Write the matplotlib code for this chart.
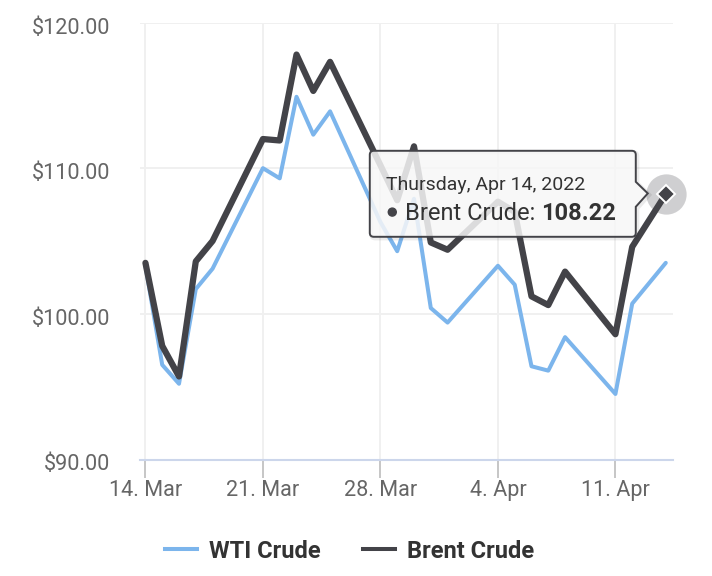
import numpy as np
import matplotlib
matplotlib.use('Agg')
import matplotlib.pyplot as plt
import matplotlib.dates as mdates
from matplotlib.path import Path
from matplotlib.patches import PathPatch, Circle
from matplotlib.lines import Line2D
from matplotlib.text import Annotation
from matplotlib.transforms import IdentityTransform, ScaledTranslation

# daily spot prices, USD per barrel
dates = ['2022-03-14', '2022-03-15', '2022-03-16', '2022-03-17', '2022-03-18',
         '2022-03-21', '2022-03-22', '2022-03-23', '2022-03-24', '2022-03-25',
         '2022-03-28', '2022-03-29', '2022-03-30', '2022-03-31', '2022-04-01',
         '2022-04-04', '2022-04-05', '2022-04-06', '2022-04-07', '2022-04-08',
         '2022-04-11', '2022-04-12', '2022-04-14']
wti = [103.3, 96.5, 95.2, 101.7, 103.1,
       110.0, 109.3, 114.9, 112.3, 113.9,
       106.3, 104.3, 107.9, 100.4, 99.4,
       103.3, 102.0, 96.4, 96.1, 98.4,
       94.5, 100.7, 103.5]
brent = [103.5, 97.8, 95.7, 103.6, 105.0,
         112.0, 111.9, 117.8, 115.3, 117.3,
         110.2, 107.8, 111.5, 104.9, 104.4,
         107.7, 107.0, 101.2, 100.6, 102.9,
         98.6, 104.6, 108.22]

tick_dates = ['2022-03-14', '2022-03-21', '2022-03-28', '2022-04-04', '2022-04-11']
tick_labels = ['14. Mar', '21. Mar', '28. Mar', '4. Apr', '11. Apr']
y_ticks = [90, 100, 110, 120]
series_names = ['WTI Crude', 'Brent Crude']
tip_header = 'Thursday, Apr 14, 2022'
tip_value = '108.22'

wti_color = '#7cb5ec'
brent_color = '#434348'

plt.rcParams['font.family'] = ['Roboto', 'DejaVu Sans']

W, H = 712, 576
fig = plt.figure(figsize=(W / 100, H / 100), dpi=100)
ax = fig.add_axes([140.4 / W, 1 - 459.5 / H, (673 - 140.4) / W, (459.5 - 22.5) / H])

x = mdates.date2num(np.array(dates, dtype='datetime64[D]'))
xt = mdates.date2num(np.array(tick_dates, dtype='datetime64[D]'))

ax.plot(x, wti, color=wti_color, lw=2.9, solid_joinstyle='round', solid_capstyle='round', zorder=3)
ax.plot(x, brent, color=brent_color, lw=4.5, solid_joinstyle='round', solid_capstyle='round', zorder=3)

# hover marker on the last Brent point
ax.plot(x[-1], brent[-1], 'o', ms=29, color=brent_color, alpha=0.25, mew=0, clip_on=False, zorder=4)
ax.plot(x[-1], brent[-1], 'D', ms=9, mfc=brent_color, mec='white', mew=1.4, clip_on=False, zorder=5)

ax.set_xlim(x[0] - 0.3, x[-1] + 0.43)
ax.set_ylim(90, 120)
ax.set_xticks(xt)
ax.set_xticklabels(tick_labels)
ax.set_yticks(y_ticks)
ax.set_yticklabels([f'${v:.2f}' for v in y_ticks])

ax.grid(True, color='#f0f0f0', lw=1.4)
ax.set_axisbelow(True)
for s in ['left', 'top', 'right']:
    ax.spines[s].set_visible(False)
ax.spines['bottom'].set_color('#ccd6eb')
ax.spines['bottom'].set_linewidth(1.5)

ax.tick_params(axis='y', length=0, pad=22, labelsize=15.6, labelcolor='#666666')
ax.tick_params(axis='x', length=13, width=1.4, color='#c6c6c6', pad=2,
               labelsize=15.6, labelcolor='#666666')
# y labels sit a little below their grid lines
shift = ScaledTranslation(0, -3 / 100, fig.dpi_scale_trans)
for lbl in ax.get_yticklabels():
    lbl.set_transform(lbl.get_transform() + shift)

# tooltip, in pixel coords relative to the hovered point
px, py = ax.transData.transform((x[-1], brent[-1]))
L, R, T, B = px - 296, px - 30, py + 43.3, py - 42.7
r = 4
verts = [(L + r, T), (R - r, T), (R, T), (R, T - r), (R, py + 12.3), (px - 18, py + 0.7),
         (R, py - 12.7), (R, B + r), (R, B), (R - r, B), (L + r, B), (L, B), (L, B + r),
         (L, T - r), (L, T), (L + r, T), (L + r, T)]
codes = [Path.MOVETO, Path.LINETO, Path.CURVE3, Path.CURVE3, Path.LINETO, Path.LINETO,
         Path.LINETO, Path.LINETO, Path.CURVE3, Path.CURVE3, Path.LINETO, Path.CURVE3, Path.CURVE3,
         Path.LINETO, Path.CURVE3, Path.CURVE3, Path.CLOSEPOLY]
tip_path = Path(verts, codes)
shadow = Path([(vx + 1.5, vy - 1.5) for vx, vy in verts], codes)
fig.add_artist(PathPatch(shadow, transform=IdentityTransform(), fc='none', ec='black',
                         lw=3, alpha=0.08, zorder=1))
fig.add_artist(PathPatch(tip_path, transform=IdentityTransform(), fc=(0.969, 0.969, 0.969, 0.85),
                         ec=brent_color, lw=1.4, zorder=2))

fig.text(px - 279.3, py + 4.4, tip_header, transform=IdentityTransform(), fontsize=14,
         color='#333333', va='baseline', ha='left', zorder=3)
fig.add_artist(Circle((px - 273.5, py - 18), 4, transform=IdentityTransform(),
                      color=brent_color, zorder=3))
t1 = fig.text(px - 260.6, py - 26.1, series_names[1] + ': ', transform=IdentityTransform(),
              fontsize=17, color='#333333', va='baseline', ha='left', zorder=3)
fig.add_artist(Annotation(tip_value, xy=(1, 0), xycoords=t1, va='bottom', ha='left',
                          fontsize=17, fontweight='bold', color='#333333', zorder=3))

handles = [Line2D([], [], color=wti_color, lw=2.9), Line2D([], [], color=brent_color, lw=2.9)]
fig.legend(handles, series_names, loc='center', bbox_to_anchor=(349.5 / W, 1 - 551 / H),
           ncol=2, frameon=False, prop={'family': 'Roboto', 'weight': 'bold', 'size': 17},
           labelcolor='#333333', handlelength=1.36, handletextpad=0.5, columnspacing=1.8)

fig.savefig('out.png', dpi=100)
